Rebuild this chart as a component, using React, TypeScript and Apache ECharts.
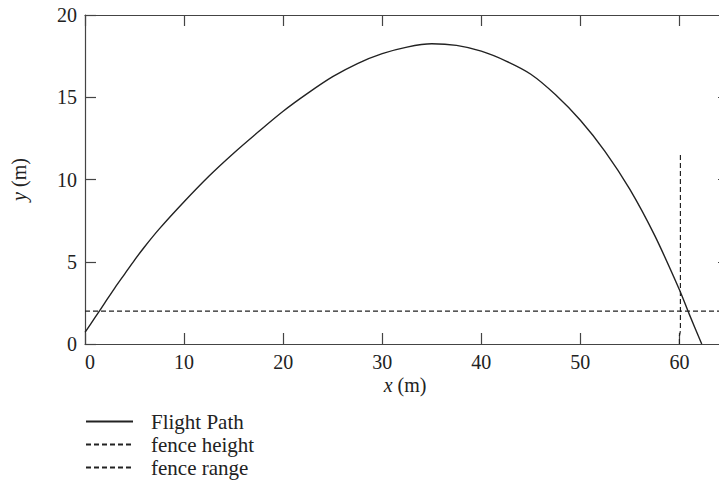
import React, { useEffect, useRef } from "react";
import * as echarts from "echarts";

const pathX = [0, 1, 2, 3, 4, 5, 6, 7.5, 10, 12.5, 15, 17.5, 20, 22.5, 25, 27.5, 30, 32.5, 35, 37.5, 40, 42.5, 45, 47.5, 50, 52.5, 55, 57.5, 60, 61, 62.25];
const pathY = [0.7, 1.6, 2.5, 3.4, 4.25, 5.1, 5.9, 7.0, 8.65, 10.2, 11.6, 12.9, 14.15, 15.25, 16.25, 17.05, 17.65, 18.05, 18.25, 18.15, 17.8, 17.2, 16.4, 15.15, 13.6, 11.7, 9.4, 6.6, 3.3, 1.8, 0];

const fenceHeightX = [0, 65];
const fenceHeightY = [2, 2];

const fenceRangeX = [60.0, 60.0, 60.1, 60.1];
const fenceRangeY = [0, 0.5, 0.8, 11.6];

const seriesNames = ["Flight Path", "fence height", "fence range"];
const xTicks = [0, 10, 20, 30, 40, 50, 60];
const yTicks = [0, 5, 10, 15, 20];

const FONT = "'Liberation Serif', 'Times New Roman', serif";
const INK = "#222";
const AXIS = "#444";

const zip = (xs: number[], ys: number[]) => xs.map((x, i) => [x, ys[i]]);

export default function App() {
  const ref = useRef<HTMLDivElement>(null);
  useEffect(() => {
    if (!ref.current) return;
    const chart = echarts.init(ref.current, null, { renderer: "svg" });
    const axisCommon = {
      type: "value" as const,
      axisLine: { show: true, onZero: false, lineStyle: { color: AXIS, width: 1.2 } },
      axisTick: { show: true, inside: true, length: 11, lineStyle: { color: AXIS, width: 1.2 } },
      splitLine: { show: false },
    };
    const xMax = 64.6;
    chart.setOption({
      animation: false,
      backgroundColor: "#fff",
      grid: { left: 85, width: 640, top: 15, bottom: 147, containLabel: false, outerBoundsMode: "none" },
      xAxis: [
        {
          ...axisCommon,
          position: "bottom",
          min: xTicks[0],
          max: xMax,
          interval: 10,
          axisLabel: {
            show: true,
            margin: 10,
            fontFamily: FONT,
            fontSize: 20,
            lineHeight: 16,
            color: INK,
            alignMinLabel: "left",
            formatter: (v: number) => (xTicks.includes(v) ? String(v) : ""),
          },
          name: "{i|x} (m)",
          nameLocation: "middle",
          nameGap: 33,
          nameMoveOverlap: false,
          nameTextStyle: {
            fontFamily: FONT,
            fontSize: 20,
            lineHeight: 16,
            color: INK,
            rich: { i: { fontStyle: "italic", fontFamily: FONT, fontSize: 20, lineHeight: 16, color: INK } },
          },
        },
        {
          ...axisCommon,
          position: "top",
          min: xTicks[0],
          max: xMax,
          interval: 10,
          axisLabel: { show: false },
        },
      ],
      yAxis: [
        {
          ...axisCommon,
          position: "left",
          min: yTicks[0],
          max: yTicks[yTicks.length - 1],
          interval: 5,
          axisLabel: {
            show: true,
            margin: 8,
            fontFamily: FONT,
            fontSize: 20,
            color: INK,
          },
          name: "{i|y} (m)",
          nameLocation: "middle",
          nameGap: 56,
          nameMoveOverlap: false,
          nameRotate: 90,
          nameTextStyle: {
            fontFamily: FONT,
            fontSize: 20,
            color: INK,
            rich: { i: { fontStyle: "italic", fontFamily: FONT, fontSize: 20, color: INK } },
          },
        },
        {
          ...axisCommon,
          position: "right",
          min: yTicks[0],
          max: yTicks[yTicks.length - 1],
          interval: 5,
          axisTick: { show: true, inside: true, length: 7, lineStyle: { color: AXIS, width: 1.2 } },
          axisLabel: { show: false },
        },
      ],
      legend: {
        orient: "vertical",
        left: 85,
        top: 411,
        padding: 0,
        itemWidth: 47,
        itemHeight: 14,
        itemGap: 2,
        data: seriesNames,
        itemStyle: { opacity: 0, borderWidth: 0 },
        textStyle: {
          fontFamily: FONT,
          fontSize: 21,
          color: INK,
          lineHeight: 21,
          padding: [0, 0, 0, 13],
        },
      },
      series: [
        {
          name: seriesNames[0],
          type: "line",
          data: zip(pathX, pathY),
          smooth: 0.3,
          symbol: "none",
          showSymbol: false,
          lineStyle: { color: INK, width: 1.4, type: "solid" },
          itemStyle: { color: INK },
          z: 3,
        },
        {
          name: seriesNames[1],
          type: "line",
          data: zip(fenceHeightX, fenceHeightY),
          symbol: "none",
          showSymbol: false,
          lineStyle: { color: INK, width: 1.2, type: [5, 3] },
          itemStyle: { color: INK },
        },
        {
          name: seriesNames[2],
          type: "line",
          data: zip(fenceRangeX, fenceRangeY),
          symbol: "none",
          showSymbol: false,
          lineStyle: { color: INK, width: 1.2, type: [5, 3] },
          itemStyle: { color: INK },
        },
      ],
    });
    return () => chart.dispose();
  }, []);
  return <div ref={ref} style={{ width: 719, height: 491, position: "absolute", left: 0, top: 0 }} />;
}
